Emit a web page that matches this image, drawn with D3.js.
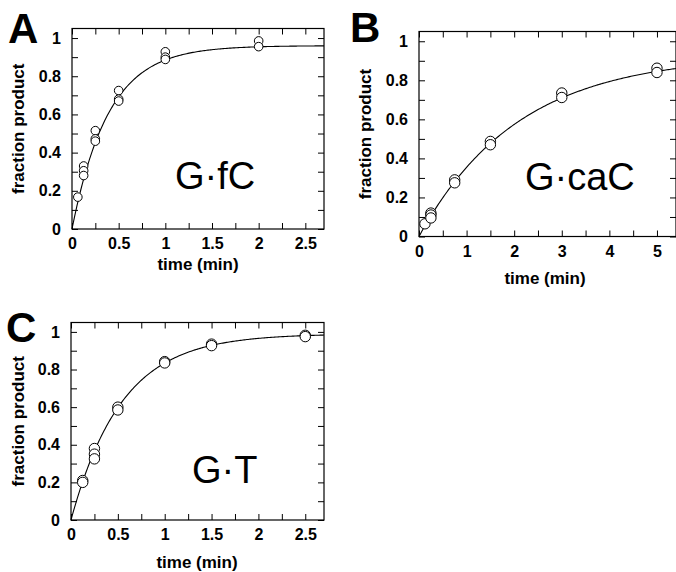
<!DOCTYPE html>
<html>
<head>
<meta charset="utf-8">
<script src="https://cdn.jsdelivr.net/npm/d3@7"></script>
<style>
    body { margin: 0; background: #fff; }
    svg { display: block; font-family: "Liberation Sans", Arial, Helvetica, sans-serif; }
</style>
</head>
<body>
<div id="chart"></div>
<script>
// G·fC
const fcTimes = [0.0625, 0.125, 0.125, 0.125, 0.25, 0.25, 0.25, 0.5, 0.5, 0.5, 1, 1, 1, 2, 2];
const fcFraction = [0.167, 0.33, 0.305, 0.28, 0.515, 0.472, 0.46, 0.725, 0.68, 0.67, 0.928, 0.9, 0.888, 0.985, 0.955];
const fcFit = { amplitude: 0.96, rate: 2.55 };

// G·caC
const cacTimes = [0.125, 0.25, 0.25, 0.25, 0.75, 0.75, 1.5, 1.5, 3, 3, 5, 5];
const cacFraction = [0.065, 0.12, 0.11, 0.095, 0.29, 0.275, 0.487, 0.47, 0.735, 0.712, 0.862, 0.84];
const cacFit = { amplitude: 0.93, rate: 0.48 };

// G·T
const gtTimes = [0.125, 0.125, 0.25, 0.25, 0.25, 0.5, 0.5, 1, 1, 1.5, 1.5, 2.5, 2.5];
const gtFraction = [0.21, 0.2, 0.38, 0.35, 0.325, 0.6, 0.585, 0.842, 0.835, 0.935, 0.927, 0.982, 0.975];
const gtFit = { amplitude: 0.99, rate: 1.85 };

const yTicks = [0, 0.1, 0.2, 0.3, 0.4, 0.5, 0.6, 0.7, 0.8, 0.9, 1];
const yLabels = [0, 0.2, 0.4, 0.6, 0.8, 1];
const xTicksShort = [0, 0.25, 0.5, 0.75, 1, 1.25, 1.5, 1.75, 2, 2.25, 2.5];
const xLabelsShort = [0, 0.5, 1, 1.5, 2, 2.5];
const xTicksLong = [0, 0.5, 1, 1.5, 2, 2.5, 3, 3.5, 4, 4.5, 5];
const xLabelsLong = [0, 1, 2, 3, 4, 5];

const svg = d3.select('#chart')
    .append('svg')
    .attr('width', 676)
    .attr('height', 572);

drawPanel({
    letter: 'A', name: 'G·fC',
    times: fcTimes, values: fcFraction, fit: fcFit,
    xMax: 2.7, xTicks: xTicksShort, xLabels: xLabelsShort,
    left: 72, right: 324, top: 28.5, bottom: 229, r: 4.3,
    letterPos: [8, 43], namePos: [175, 189], yTitleX: 24, xTitleY: 270
});

drawPanel({
    letter: 'B', name: 'G·caC',
    times: cacTimes, values: cacFraction, fit: cacFit,
    xMax: 5.4, xTicks: xTicksLong, xLabels: xLabelsLong,
    left: 419, right: 676, top: 31.5, bottom: 236.5, r: 5.2,
    letterPos: [350, 42], namePos: [525, 190], yTitleX: 371, xTitleY: 284
});

drawPanel({
    letter: 'C', name: 'G·T',
    times: gtTimes, values: gtFraction, fit: gtFit,
    xMax: 2.7, xTicks: xTicksShort, xLabels: xLabelsShort,
    left: 71, right: 324, top: 322.5, bottom: 520, r: 5.2,
    letterPos: [6, 342], namePos: [192, 483], yTitleX: 24, xTitleY: 568
});

function drawPanel(p) {
    const x = d3.scaleLinear().domain([0, p.xMax]).range([p.left, p.right]);
    const y = d3.scaleLinear().domain([0, 1.05]).range([p.bottom, p.top]);
    const fmt = d => String(+d.toFixed(2));
    const tick = 6;

    const g = svg.append('g');

    // ticks on all four sides, pointing inward
    const bottomAxis = g.append('g')
        .attr('transform', `translate(0,${p.bottom})`)
        .call(d3.axisBottom(x).tickValues(p.xTicks).tickSizeInner(-tick).tickSizeOuter(0)
            .tickPadding(9).tickFormat(d => p.xLabels.includes(d) ? fmt(d) : ''));
    g.append('g')
        .attr('transform', `translate(0,${p.top})`)
        .call(d3.axisTop(x).tickValues(p.xTicks).tickSizeInner(-tick).tickSizeOuter(0).tickFormat(''));
    const leftAxis = g.append('g')
        .attr('transform', `translate(${p.left},0)`)
        .call(d3.axisLeft(y).tickValues(yTicks).tickSizeInner(-tick).tickSizeOuter(0)
            .tickPadding(11).tickFormat(d => yLabels.includes(d) ? fmt(d) : ''));
    g.append('g')
        .attr('transform', `translate(${p.right},0)`)
        .call(d3.axisRight(y).tickValues(yTicks).tickSizeInner(-tick).tickSizeOuter(0).tickFormat(''));

    g.selectAll('.domain').remove();
    g.selectAll('.tick line').attr('stroke', '#000').attr('stroke-width', 1);
    [bottomAxis, leftAxis].forEach(a => a.selectAll('text')
        .attr('fill', '#000')
        .style('font-size', '16px')
        .style('font-weight', 'bold'));

    // frame
    g.append('rect')
        .attr('x', p.left)
        .attr('y', p.top)
        .attr('width', p.right - p.left)
        .attr('height', p.bottom - p.top)
        .attr('fill', 'none')
        .attr('stroke', '#000')
        .attr('stroke-width', 1.2);

    // fitted single exponential
    const samples = d3.range(0, 201).map(i => i / 200 * p.xMax);
    const line = d3.line()
        .x(t => x(t))
        .y(t => y(p.fit.amplitude * (1 - Math.exp(-p.fit.rate * t))));
    g.append('path')
        .datum(samples)
        .attr('d', line)
        .attr('fill', 'none')
        .attr('stroke', '#000')
        .attr('stroke-width', 1.1);

    g.selectAll('.dot')
        .data(p.times)
        .enter().append('circle')
        .attr('class', 'dot')
        .attr('cx', d => x(d))
        .attr('cy', (d, i) => y(p.values[i]))
        .attr('r', p.r)
        .attr('fill', '#fff')
        .attr('stroke', '#000')
        .attr('stroke-width', 1);

    g.append('text')
        .attr('x', p.namePos[0])
        .attr('y', p.namePos[1])
        .style('font-size', '38px')
        .text(p.name);

    g.append('text')
        .attr('x', p.letterPos[0])
        .attr('y', p.letterPos[1])
        .style('font-size', '42px')
        .style('font-weight', 'bold')
        .text(p.letter);

    g.append('text')
        .attr('transform', `translate(${p.yTitleX},${(p.top + p.bottom) / 2}) rotate(-90)`)
        .attr('text-anchor', 'middle')
        .style('font-size', '17px')
        .style('font-weight', 'bold')
        .text('fraction product');

    g.append('text')
        .attr('x', (p.left + Math.min(p.right, p.left + 252)) / 2)
        .attr('y', p.xTitleY)
        .attr('text-anchor', 'middle')
        .style('font-size', '17px')
        .style('font-weight', 'bold')
        .text('time (min)');
}
</script>
</body>
</html>
